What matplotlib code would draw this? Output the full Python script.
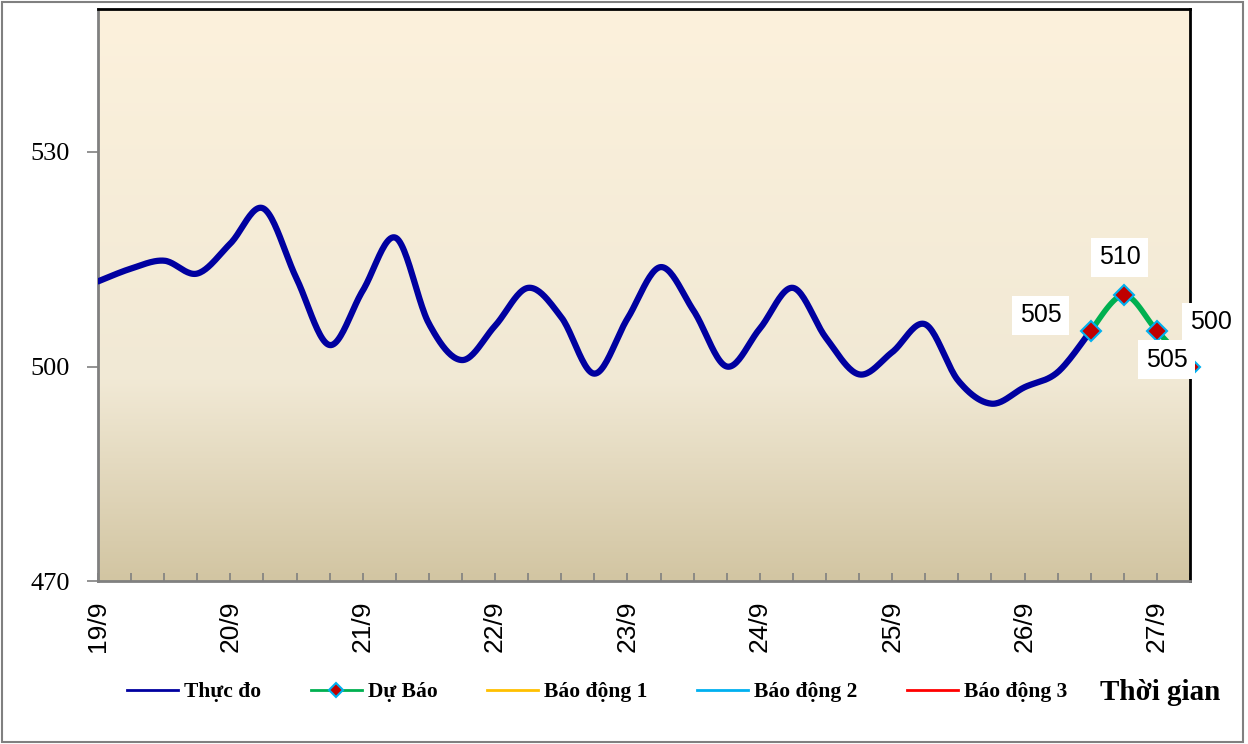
import numpy as np
import matplotlib
matplotlib.use('Agg')
import matplotlib.pyplot as plt
from matplotlib.lines import Line2D
from matplotlib.colors import LinearSegmentedColormap
from matplotlib.patches import Rectangle

# observed water level every 6 hours, starting 19/9 00h
observed = [511.9, 513.7, 514.8, 513.0, 517.2, 522.1, 512.3, 503.0,
            510.6, 518.0, 506.0, 500.9, 505.7, 511.0, 506.9, 499.0,
            506.7, 513.9, 507.8, 500.0, 505.3, 511.0, 504.0, 498.9,
            502.0, 505.9, 498.0, 494.8, 497.1, 499.2, 505.0]
# forecast, from 26/9 12h
forecast = [505, 510, 505, 500]
forecast_start = 30

day_labels = ['19/9', '20/9', '21/9', '22/9', '23/9', '24/9', '25/9', '26/9', '27/9']
legend_labels = ['Thực đo', 'Dự Báo', 'Báo động 1', 'Báo động 2', 'Báo động 3']


def smooth(xs, ys, n=24):
    # catmull-rom curve through the points, like excel's smoothed line
    xs = np.asarray(xs, float)
    ys = np.asarray(ys, float)
    px = np.concatenate([[xs[0]], xs, [xs[-1]]])
    py = np.concatenate([[ys[0]], ys, [ys[-1]]])
    outx, outy = [], []
    t = np.linspace(0, 1, n, endpoint=False)
    for i in range(1, len(px) - 2):
        for p, out in ((px, outx), (py, outy)):
            p0, p1, p2, p3 = p[i - 1], p[i], p[i + 1], p[i + 2]
            out.extend(0.5 * (2 * p1 + (-p0 + p2) * t +
                              (2 * p0 - 5 * p1 + 4 * p2 - p3) * t ** 2 +
                              (-p0 + 3 * p1 - 3 * p2 + p3) * t ** 3))
    outx.append(xs[-1])
    outy.append(ys[-1])
    return np.array(outx), np.array(outy)


x_obs = np.arange(len(observed)) * 0.25
x_fc = (forecast_start + np.arange(len(forecast))) * 0.25

fig = plt.figure(figsize=(12.48, 7.44), dpi=100)
fig.patch.set_facecolor('white')
fig.add_artist(Rectangle((0.002, 0.003), 0.994, 0.994, transform=fig.transFigure,
                         fill=False, edgecolor='#808080', linewidth=1.5))
ax = fig.add_axes([98 / 1248, 163 / 744, 1092 / 1248, 572 / 744])

xmin, xmax = 0, 8.25
ymin, ymax = 470, 550

cmap = LinearSegmentedColormap.from_list('bg', [(0, '#FCF1DC'), (0.65, '#F1E9D5'), (1, '#D2C5A2')])
grad = np.linspace(0, 1, 256).reshape(-1, 1)
ax.imshow(grad, cmap=cmap, aspect='auto', extent=[xmin, xmax, ymin, ymax], zorder=0)

sx, sy = smooth(x_obs, observed)
ax.plot(sx, sy, color='#0000A0', linewidth=4.5, solid_capstyle='round', zorder=3)
fx, fy = smooth(x_fc, forecast)
ax.plot(fx, fy, color='#00B050', linewidth=4, zorder=3)
ax.plot(x_fc, forecast, linestyle='none', marker='D', markersize=10,
        markerfacecolor='#C00000', markeredgecolor='#00B0F0', markeredgewidth=1.5,
        zorder=4, clip_on=False)

offsets = [(-36, 11), (-3, 27), (7, -21), (15, 32)]
for xv, yv, (dx, dy) in zip(x_fc, forecast, offsets):
    ax.annotate(f'{yv}', (xv, yv), xytext=(dx, dy), textcoords='offset points',
                ha='center', va='center', fontsize=18, family='Liberation Sans',
                bbox=dict(boxstyle='square,pad=0.3', facecolor='white', edgecolor='none'),
                zorder=6, annotation_clip=False)

ax.set_xlim(xmin, xmax)
ax.set_ylim(ymin, ymax)
ax.set_yticks([470, 500, 530])
ax.set_yticklabels(['470', '500', '530'], family='Liberation Serif', fontsize=19)
ax.set_xticks(np.arange(len(day_labels)))
ax.set_xticklabels(day_labels, rotation=90, family='Liberation Sans', fontsize=19, va='top')
ax.set_xticks(np.arange(0, 8.26, 0.25), minor=True)
ax.tick_params(axis='x', which='both', direction='in', length=6, color='#808080', width=1.2)
ax.tick_params(axis='x', which='major', pad=14)
ax.tick_params(axis='y', direction='out', length=8, color='#808080', width=1.2, pad=12)

for side in ['left', 'bottom']:
    ax.spines[side].set_color('#808080')
    ax.spines[side].set_linewidth(2)
for side in ['top', 'right']:
    ax.spines[side].set_color('black')
    ax.spines[side].set_linewidth(2)

handles = [Line2D([], [], color='#0000A0', linewidth=2),
           Line2D([], [], color='#00B050', linewidth=2, marker='D', markersize=7,
                  markerfacecolor='#C00000', markeredgecolor='#00B0F0', markeredgewidth=1.5),
           Line2D([], [], color='#FFC000', linewidth=2),
           Line2D([], [], color='#00B0F0', linewidth=2),
           Line2D([], [], color='#FF0000', linewidth=2)]
fig.legend(handles, legend_labels, loc='center left', bbox_to_anchor=(127 / 1248, 1 - 692 / 744),
           ncol=5, frameon=False, handlelength=2.37, handletextpad=0.28, columnspacing=2.3,
           borderpad=0, borderaxespad=0,
           prop={'family': 'Liberation Serif', 'weight': 'bold', 'size': 15.5})
fig.text(1100 / 1248, 1 - 692 / 744, 'Thời gian', family='Liberation Serif', weight='bold',
         fontsize=21, ha='left', va='center')

fig.savefig('out.png', dpi=100)
